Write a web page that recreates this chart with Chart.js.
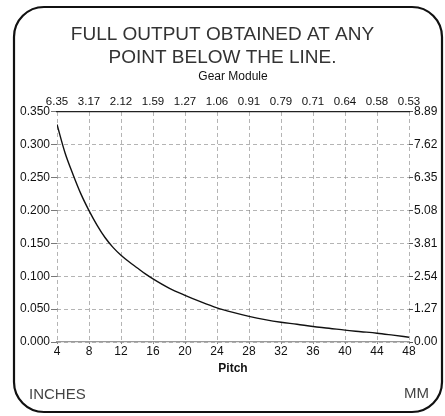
<!DOCTYPE html>
<html>
<head>
<meta charset="utf-8">
<script src="https://cdn.jsdelivr.net/npm/chart.js@4"></script>
<style>
  html, body { margin: 0; padding: 0; background: #fff; }
  #wrap { width: 445px; height: 416px; }
</style>
</head>
<body>
<div id="wrap"><canvas id="pitchChart" width="445" height="416"></canvas></div>
<script>
// Pitch (teeth per inch) vs. tooth size in inches
const pitchValues = [4, 5, 6, 7, 8, 9, 10, 11, 12, 13, 14, 15, 16, 18, 20, 22, 24, 26, 28, 30, 32, 34, 36, 38, 40, 42, 44, 46, 48];
const inchValues  = [0.331, 0.288, 0.255, 0.225, 0.200, 0.178, 0.159, 0.144, 0.132, 0.122, 0.113, 0.104, 0.096,
                     0.082, 0.071, 0.061, 0.052, 0.045, 0.039, 0.034, 0.030, 0.027, 0.0235, 0.021, 0.018,
                     0.0157, 0.0134, 0.0104, 0.0073];

// labels of the secondary axes
const moduleLabels = ['6.35', '3.17', '2.12', '1.59', '1.27', '1.06', '0.91', '0.79', '0.71', '0.64', '0.58', '0.53'];
const mmLabels = ['0.00', '1.27', '2.54', '3.81', '5.08', '6.35', '7.62', '8.89'];
const titleLines = ['FULL OUTPUT OBTAINED AT ANY', 'POINT BELOW THE LINE.'];

const fontFamily = '"Liberation Sans", Arial, Helvetica, sans-serif';
const gridGrey = 'rgba(120,120,120,0.7)';

// rahmen + einheiten unten
const framePlugin = {
    id: 'frame',
    beforeDraw(chart) {
        const ctx = chart.ctx;
        ctx.save();
        ctx.fillStyle = '#fff';
        ctx.fillRect(0, 0, chart.width, chart.height);
        ctx.strokeStyle = '#111';
        ctx.lineWidth = 2.2;
        ctx.beginPath();
        ctx.roundRect(14, 7, 428, 405, 30);
        ctx.stroke();
        ctx.restore();
    },
    afterDraw(chart) {
        const ctx = chart.ctx;
        ctx.save();
        ctx.font = '15px ' + fontFamily;
        ctx.fillStyle = '#444';
        ctx.textBaseline = 'middle';
        ctx.textAlign = 'left';
        ctx.fillText('INCHES', 29, 395);
        ctx.textAlign = 'right';
        ctx.fillText('MM', 429, 394);
        ctx.restore();
    }
};

const chartData = {
    datasets: [{
        label: 'Pitch',
        data: pitchValues.map((p, i) => ({ x: p, y: inchValues[i] })),
        borderColor: '#111',
        borderWidth: 1.4,
        pointRadius: 0,
        fill: false,
        cubicInterpolationMode: 'monotone',
    }]
};

const config = {
    type: 'line',
    data: chartData,
    plugins: [framePlugin],
    options: {
        responsive: false,
        animation: false,
        layout: { padding: { left: 0, right: 0, top: 0, bottom: 40 } },
        plugins: {
            legend: { display: false },
            tooltip: { enabled: false },
            title: {
                display: true,
                text: titleLines,
                color: '#333',
                font: { family: fontFamily, size: 19, weight: 'normal', lineHeight: 1.21 },
                padding: { top: 23.5, bottom: 0 },
            },
        },
        scales: {
            x: {
                type: 'linear',
                position: 'bottom',
                min: 4,
                max: 48,
                ticks: { stepSize: 4, color: '#111', font: { family: fontFamily, size: 12 }, padding: 0, maxRotation: 0 },
                grid: { color: gridGrey, lineWidth: 0.8, tickLength: 2, tickColor: '#666' },
                border: { display: true, color: '#999', width: 1.2, dash: [4, 3] },
                title: { display: true, text: 'Pitch', color: '#111', font: { family: fontFamily, size: 12, weight: 'bold' }, padding: { top: 1, bottom: 0 } },
                afterFit: scale => { scale.height = 34; },
            },
            x2: {
                type: 'linear',
                position: 'top',
                min: 4,
                max: 48,
                ticks: {
                    stepSize: 4,
                    color: '#111',
                    font: { family: fontFamily, size: 11.5 },
                    padding: 3,
                    maxRotation: 0,
                    callback: value => moduleLabels[(value - 4) / 4],
                },
                grid: { display: true, drawOnChartArea: false, drawTicks: false },
                border: { display: true, color: '#222', width: 1.3 },
                title: { display: true, text: 'Gear Module', color: '#111', font: { family: fontFamily, size: 12 }, padding: { top: 0, bottom: 0 } },
                afterFit: scale => { scale.height = 42.5; },
            },
            y: {
                type: 'linear',
                position: 'left',
                min: 0,
                max: 0.35,
                ticks: {
                    stepSize: 0.05,
                    color: '#111',
                    font: { family: fontFamily, size: 12 },
                    padding: 1,
                    callback: value => value.toFixed(3),
                },
                grid: { color: gridGrey, lineWidth: 0.8, tickLength: 6, tickColor: '#555', tickBorderDash: [] },
                border: { display: false, dash: [4, 3] },
                afterFit: scale => { scale.width = 57; },
            },
            y2: {
                type: 'linear',
                position: 'right',
                min: 0,
                max: 0.35,
                ticks: {
                    stepSize: 0.05,
                    color: '#111',
                    font: { family: fontFamily, size: 12 },
                    padding: 1,
                    callback: (value, index) => mmLabels[index],
                },
                grid: { display: true, drawOnChartArea: false, tickLength: 4, tickColor: '#555' },
                border: { display: false },
                afterFit: scale => { scale.width = 36; },
            },
        },
    },
};

let pitchChart = new Chart(document.getElementById('pitchChart'), config);
</script>
</body>
</html>
